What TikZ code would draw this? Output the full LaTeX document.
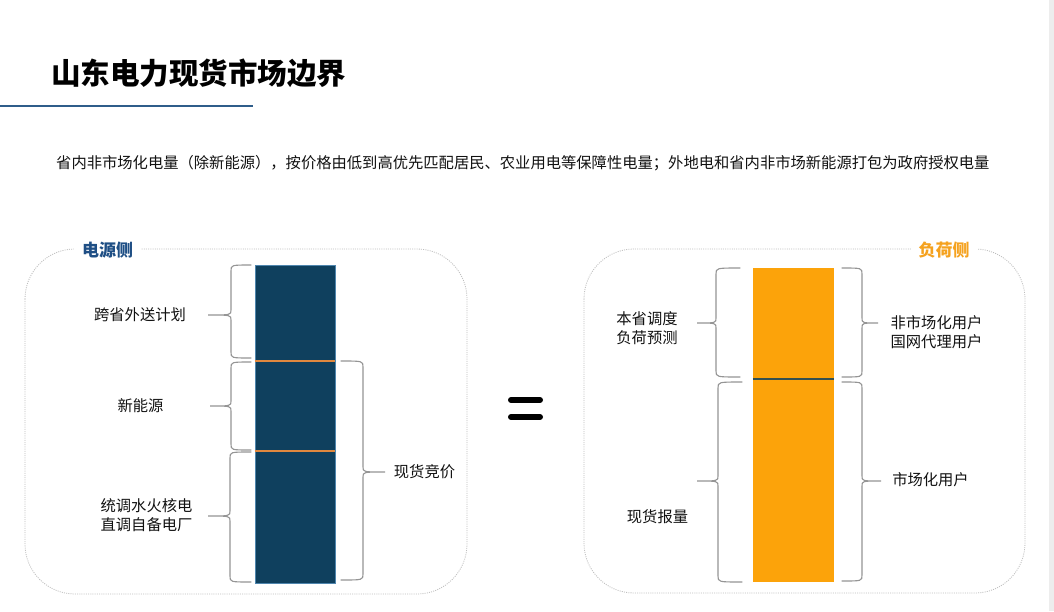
\documentclass[tikz,border=0pt]{standalone}
\usepackage{fontspec}
\setmainfont{Noto Sans CJK SC}
\definecolor{titleline}{HTML}{2F5D8A}
\definecolor{srcblue}{HTML}{0F405E}
\definecolor{srcedge}{HTML}{4F86AE}
\definecolor{sepor}{HTML}{E0883F}
\definecolor{loadorange}{HTML}{FCA30A}
\definecolor{sepdark}{HTML}{35504F}
\definecolor{srclabel}{HTML}{1F4F85}
\definecolor{loadlabel}{HTML}{F5A21F}
\definecolor{bracegray}{HTML}{959595}
\definecolor{panelgray}{HTML}{BDBDBD}
\definecolor{txt}{HTML}{111111}
\newcommand\BraceOpen[6]{% xe xv xt ytop ytip ybot
  \draw[bracestyle] (#1,#4) .. controls (#2,#4) .. (#2,#4+6) -- (#2,#5-5)
    .. controls (#2,#5) .. (#3,#5) .. controls (#2,#5) .. (#2,#5+5)
    -- (#2,#6-6) .. controls (#2,#6) .. (#1,#6);}
\begin{document}
\begin{tikzpicture}[x=1pt,y=-1pt,
  bracestyle/.style={draw=bracegray, line width=1.1pt, line cap=round},
  lbl/.style={text=txt, font=\fontsize{15.3}{18.5}\selectfont, inner sep=0pt, align=center},
  panel/.style={draw=panelgray, line width=0.8pt, dash pattern=on 1pt off 1.2pt, rounded corners=50pt},
  sidelbl/.style={fill=white, inner xsep=8pt, inner ysep=2pt, font=\fontsize{17}{20}\selectfont\bfseries}
]
\useasboundingbox (0,0) rectangle (1054,611);
\fill[white] (0,0) rectangle (1054,611);
\fill[black!7] (1049,0) rectangle (1054,611);

% title
\node[font=\fontsize{29.5}{32}\selectfont\bfseries, text=black, inner sep=0pt] (title) at (198.5,73) {山东电力现货市场边界};
\coordinate (tl0) at (0,106);
\coordinate (tl1) at (253,106);
\draw[titleline, line width=1.8pt] (tl0) -- (tl1);

% subtitle
\node[lbl, anchor=west] (sub) at (56,163) {省内非市场化电量（除新能源），按价格由低到高优先匹配居民、农业用电等保障性电量；外地电和省内非市场新能源打包为政府授权电量};

% panels
\draw[panel] (25,249) rectangle (467,594);
\draw[panel] (584,249) rectangle (1025,593);
\node[sidelbl, text=srclabel] (srclbl) at (107.5,250) {电源侧};
\node[sidelbl, text=loadlabel] (loadlbl) at (944,250) {负荷侧};

% left bar
\node[draw=srcedge, line width=0.6pt, fill=srcblue, minimum width=80pt, minimum height=318pt, inner sep=0pt] (lbar) at (295,424) {};
\draw[sepor, line width=1.8pt] (lbar.west |- 0,361) -- (lbar.east |- 0,361);
\draw[sepor, line width=1.8pt] (lbar.west |- 0,451) -- (lbar.east |- 0,451);

% right bar
\node[fill=loadorange, minimum width=81pt, minimum height=314pt, inner sep=0pt] (rbar) at (793.5,425) {};
\draw[sepdark, line width=1.6pt] (rbar.west |- 0,379) -- (rbar.east |- 0,379);

% left panel braces
\BraceOpen{251}{231}{208}{265}{315}{358}
\BraceOpen{251}{231}{210}{362}{406}{450}
\BraceOpen{251}{230}{208}{452}{516}{582}
\BraceOpen{341}{363}{385}{361}{472}{580}

% right panel braces
\BraceOpen{740}{716}{697}{268}{323}{377}
\BraceOpen{742}{718}{697}{382}{481}{582}
\BraceOpen{842}{862}{878}{268}{323}{377}
\BraceOpen{842}{862}{881}{382}{481}{581}

% left labels
\node[lbl] (kua) at (140,315) {跨省外送计划};
\node[lbl] (xin) at (140.5,406) {新能源};
\node[lbl] (tong) at (146.5,515) {统调水火核电\\直调自备电厂};
\node[lbl] (jing) at (424.5,472) {现货竞价};

% equals
\coordinate (e1a) at (511,400); \coordinate (e1b) at (540,400);
\coordinate (e2a) at (511,417); \coordinate (e2b) at (540,417);
\draw[black, line width=6pt, line cap=round] (e1a) -- (e1b);
\draw[black, line width=6pt, line cap=round] (e2a) -- (e2b);

% right labels
\node[lbl] (bensheng) at (647,328) {本省调度\\负荷预测};
\node[lbl] (baoliang) at (657.5,517) {现货报量};
\node[lbl] (feishi) at (936.5,332) {非市场化用户\\国网代理用户};
\node[lbl] (shichang) at (930.5,480) {市场化用户};
\end{tikzpicture}
\end{document}
